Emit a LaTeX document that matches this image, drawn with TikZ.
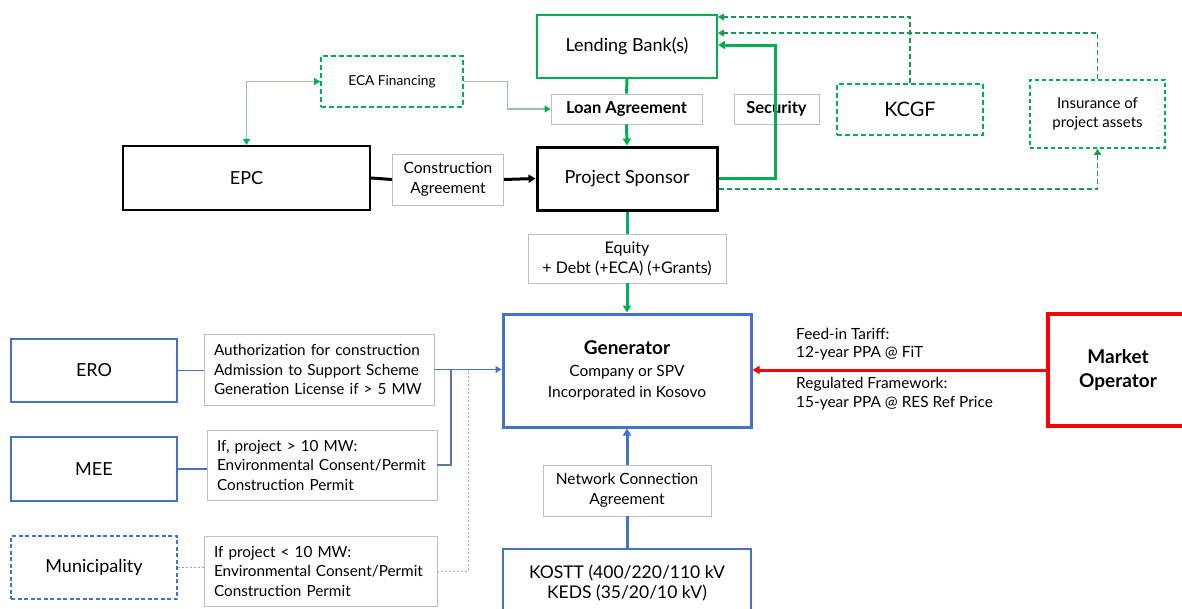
\documentclass[tikz,border=0pt]{standalone}
\usepackage{fontspec}
\setmainfont{Lato}
\usetikzlibrary{arrows.meta,calc}
\definecolor{gr}{HTML}{00B050}
\definecolor{bl}{HTML}{4472C4}
\definecolor{rd}{HTML}{FF0000}
\definecolor{lg}{HTML}{BFBFBF}
\definecolor{ecal}{HTML}{9DBFA8}
\begin{document}
\begin{tikzpicture}[x=1pt,y=-1pt,
  box/.style={draw,inner sep=2pt,align=center},
  lbl/.style={draw=lg,line width=0.8pt,fill=white,align=center,inner sep=2pt,font=\fontsize{15.5}{20}\selectfont},
  llbl/.style={draw=lg,line width=0.8pt,fill=white,align=left,inner xsep=10pt,inner ysep=2pt,font=\fontsize{15.3}{19.5}\selectfont},
  big/.style={font=\fontsize{18}{22}\selectfont},
  tipg/.style={-{Triangle[width=8pt,length=7pt]}},
  gthick/.style={draw=gr,line width=3pt},
  gdash/.style={draw=gr!80!black!90,line width=1.1pt,dash pattern=on 5pt off 3pt},
  ecaline/.style={draw=ecal,line width=1.1pt,{Triangle[width=7pt,length=6pt,color=gr]}-{Triangle[width=7pt,length=6pt,color=gr]}},
  ecaone/.style={draw=ecal,line width=1.1pt,-{Triangle[width=7pt,length=6pt,color=gr]}},
  bline/.style={draw=bl,line width=1.2pt},
]
\useasboundingbox (0,0) rectangle (1182,608);
\clip (0,0) rectangle (1182,608);

% top area
\node[box,big,draw=gr,line width=2pt,minimum width=180pt,minimum height=63pt] (bank) at (627,46.5) {Lending Bank(s)};
\node[box,draw=gr,line width=1.6pt,dash pattern=on 5pt off 3pt,minimum width=142pt,minimum height=51pt,font=\fontsize{13.7}{16}\selectfont] (eca) at (392,81.5) {ECA Financing};
\node[lbl,font=\bfseries\fontsize{16.5}{18}\selectfont,minimum width=151pt,minimum height=30pt] (loan) at (626.5,109) {Loan Agreement};
\node[lbl,font=\bfseries\fontsize{16.5}{18}\selectfont,minimum width=85pt,minimum height=30pt] (sec) at (776.5,109) {Security};
\node[box,draw=gr,line width=1.6pt,dash pattern=on 5pt off 3pt,minimum width=146pt,minimum height=51pt,font=\fontsize{20}{22}\selectfont] (kcgf) at (910,109.5) {KCGF};
\node[box,draw=gr,line width=1.6pt,dash pattern=on 4pt off 3pt,minimum width=135pt,minimum height=68pt,font=\fontsize{15}{19}\selectfont] (ins) at (1097.5,114) {Insurance of\\project assets};

\node[box,big,draw=black,line width=2pt,minimum width=247pt,minimum height=64pt] (epc) at (246.5,178) {EPC};
\node[lbl,minimum width=111pt,minimum height=51pt] (cons) at (448,179.5) {Construction\\Agreement};
\node[box,big,draw=black,line width=3pt,minimum width=180pt,minimum height=63pt] (spon) at (627,178.5) {Project Sponsor};

\node[lbl,minimum width=198pt,minimum height=49pt,font=\fontsize{16}{20}\selectfont] (eq) at (627,258.5) {Equity\\+ Debt (+ECA) (+Grants)};

% generator row
\node[box,draw=bl,line width=3pt,minimum width=248pt,minimum height=113pt,font=\fontsize{15.5}{21.5}\selectfont] (gen) at (627,370.5) {{\bfseries\fontsize{19}{21.5}\selectfont Generator}\\Company or SPV\\Incorporated in Kosovo};
\node[box,draw=rd,line width=4pt,minimum width=140pt,minimum height=112pt,font=\bfseries\fontsize{19}{24}\selectfont] (mo) at (1118,370) {Market\\Operator};
\node[anchor=west,align=left,inner sep=0pt,font=\fontsize{15.4}{18.5}\selectfont] (fit) at (796,344) {Feed-in Tariff:\\12-year PPA @ FiT};
\node[anchor=west,align=left,inner sep=0pt,font=\fontsize{15.4}{18.5}\selectfont] (reg) at (796,393.5) {Regulated Framework:\\15-year PPA @ RES Ref Price};

\node[lbl,minimum width=168pt,minimum height=51pt] (net) at (627,490.5) {Network Connection\\Agreement};
\node[box,draw=bl,line width=2pt,minimum width=248pt,minimum height=68pt,font=\fontsize{17.5}{19.5}\selectfont] (kostt) at (627,583) {KOSTT (400/220/110 kV\\KEDS (35/20/10 kV)};

% left column
\node[box,big,draw=bl,line width=2pt,minimum width=166pt,minimum height=63pt] (ero) at (94,370.5) {ERO};
\node[llbl,text width=210pt,minimum height=71pt] (erol) at (319,369.5) {Authorization for construction\\Admission to Support Scheme\\Generation License if > 5 MW};
\node[box,big,draw=bl,line width=2pt,minimum width=166pt,minimum height=64pt] (mee) at (94,469) {MEE};
\node[llbl,text width=210pt,minimum height=70pt] (meel) at (322,465) {If, project > 10 MW:\\Environmental Consent/Permit\\Construction Permit};
\node[box,big,draw=bl,line width=1.6pt,dash pattern=on 4pt off 2.5pt,minimum width=166pt,minimum height=63pt] (mun) at (94,567.5) {Municipality};
\node[llbl,text width=213pt,minimum height=70pt] (munl) at (320.5,571) {If project < 10 MW:\\Environmental Consent/Permit\\Construction Permit};

\coordinate (j1) at (451,369.5);
\coordinate (j2) at (468,369.5);

% connectors top
\draw[gthick] (bank.south) -- (loan.north);
\draw[gthick,tipg] (loan.south) -- (spon.north);
\draw[ecaone] (eca.east) -- ++(44,0) |- (loan.west);
\draw[ecaline] (eca.west) -| (epc.north);
\draw[line width=3pt] (epc.east) -- (cons.west);
\draw[line width=3pt,tipg] (cons.east) -- (spon.west);
\draw[gthick,tipg] (spon.east) -- ++(57,0) |- ([yshift=1.5pt]bank.east);
\draw[gdash,-{Triangle[width=7pt,length=6pt]}] (kcgf.north) |- ([yshift=29.5pt]bank.east);
\draw[gdash,-{Triangle[width=7pt,length=6pt]}] (ins.north) |- ([yshift=13.5pt]bank.east);
\draw[gdash,-{Triangle[width=7pt,length=6pt]}] ([yshift=-10.5pt]spon.east) -| (ins.south);

\draw[gthick] (spon.south) -- (eq.north);
\draw[gthick,tipg] (eq.south) -- (gen.north);

\draw[draw=rd,line width=3pt,tipg] (mo.west) -- (mo.west -| gen.east);
\draw[draw=bl,line width=3pt] (kostt.north) -- (net.south);
\draw[draw=bl,line width=3pt,tipg] (net.north) -- (gen.south);

\draw[bline] (ero.east) -- (ero.east -| erol.west);
\draw[bline,-{Triangle[width=7pt,length=6pt]}] (erol.east) -- (erol.east -| gen.west);
\draw[bline] (mee.east) -- (mee.east -| meel.west);
\draw[draw=bl!60!gray,line width=1.6pt] (meel.east) -| (j1);
\draw[draw=gray!70,line width=1pt,dash pattern=on 2pt off 2pt] (mun.east) -- (mun.east -| munl.west);
\draw[draw=gray!70,line width=1pt,dash pattern=on 2pt off 2pt] (munl.east) -| (j2);
\end{tikzpicture}
\end{document}
